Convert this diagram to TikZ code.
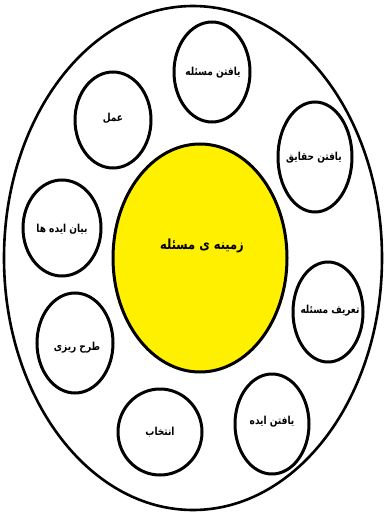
\documentclass[tikz,border=0pt]{standalone}
\usepackage{fontspec}
\newfontfamily\arabicfont[Script=Arabic,FakeStretch=0.82]{DejaVu Sans}
\TeXXeTstate=1
\definecolor{yel}{RGB}{255,240,0}
\begin{document}
\begin{tikzpicture}[x=1pt,y=-1pt,
  ring/.style={draw=black,line width=3pt},
  lbl/.style={font=\arabicfont\bfseries\fontsize{11}{13}\selectfont},
  clbl/.style={font=\arabicfont\bfseries\fontsize{14}{16}\selectfont}]
\useasboundingbox (0,0) rectangle (386,513);
\draw[ring,line width=2.6pt] (193,258) ellipse [x radius=189, y radius=252];
\draw[ring,fill=yel] (200,258) ellipse [x radius=87, y radius=114];
\node[clbl] (c) at (202,246) {\beginR زمینه ی مسئله\endR};
\draw[ring] (212,72) ellipse [x radius=38, y radius=50];
\node[lbl] (n1) at (213,73) {\beginR یافتن مسئله\endR};
\draw[ring] (315,157) ellipse [x radius=37, y radius=55];
\node[lbl] (n2) at (314,158) {\beginR یافتن حقایق\endR};
\draw[ring] (328,312) ellipse [x radius=35, y radius=50];
\node[lbl] (n3) at (330,311) {\beginR تعریف مسئله\endR};
\draw[ring] (272,424) ellipse [x radius=37, y radius=50];
\node[lbl] (n4) at (272,422) {\beginR یافتن ایده\endR};
\draw[ring] (160,432) ellipse [x radius=42, y radius=43];
\node[lbl] (n5) at (160,432) {\beginR انتخاب\endR};
\draw[ring] (75,343) ellipse [x radius=38, y radius=50];
\node[lbl] (n6) at (77,348) {\beginR طرح ریزی\endR};
\draw[ring] (62,228) ellipse [x radius=39, y radius=48];
\node[lbl] (n7) at (62,229) {\beginR بیان ایده ها\endR};
\draw[ring] (113,120) ellipse [x radius=38, y radius=48];
\node[lbl] (n8) at (113,118) {\beginR عمل\endR};
\end{tikzpicture}
\end{document}
